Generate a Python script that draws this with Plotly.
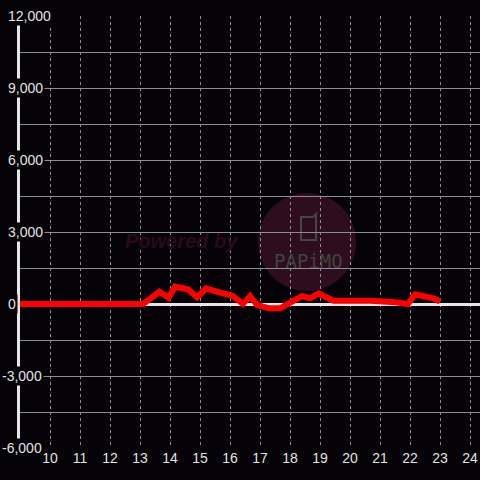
import plotly.graph_objects as go

# ---- data ----
hours = [9, 13.1, 13.65, 13.95, 14.17, 14.6, 14.9, 15.2, 15.67, 16.1, 16.43, 16.67,
         16.9, 17.3, 17.67, 18.1, 18.4, 18.67, 18.95, 19.45, 20.67, 21.5, 21.93,
         22.17, 22.78, 23.0]
values = [0, 0, 510, 260, 720, 610, 280, 650, 470, 330, 0, 330,
          -40, -180, -180, 140, 330, 240, 440, 140, 140, 70, 0,
          400, 240, 100]

x_ticks = list(range(10, 25))
x_tick_labels = [str(h) for h in x_ticks]
y_grid = [-6000 + 1500 * i for i in range(13)]
y_label_vals = [12000, 9000, 6000, 3000, 0, -3000, -6000]
y_label_text = ["12,000", "9,000", "6,000", "3,000", "0", "-3,000", "-6,000"]

BG = "#050307"
GRID = "#8e8e8e"
TXT = "#e2e2e2"
FONT = "Liberation Sans, Arial, sans-serif"

fig = go.Figure()
fig.add_trace(go.Scatter(x=hours, y=values, mode="lines",
                         line=dict(color="#ff0000", width=6),
                         hoverinfo="skip", showlegend=False))

annotations = []
for v, t in zip(y_label_vals, y_label_text):
    annotations.append(dict(
        x=0, xref="paper", y=v, yref="y", text=t, showarrow=False,
        xanchor="left", yanchor="middle",
        xshift=(-20 if t.startswith("-") else -14),
        bgcolor=BG, borderpad=1,
        font=dict(family=FONT, size=14, color=TXT)))


def px(xp):
    return (xp - 20) / 460


def py(yp):
    return (448 - yp) / 432


# watermark
annotations.append(dict(x=px(181), y=py(241), xref="paper", yref="paper",
                        text="<b><i>Powered by</i></b>", showarrow=False,
                        font=dict(family=FONT, size=20, color="#290a1b")))
annotations.append(dict(x=px(308), y=py(261), xref="paper", yref="paper",
                        text="PAPiMO", showarrow=False,
                        font=dict(family="DejaVu Sans Mono", size=19, color="#424242")))

shapes = [
    dict(type="circle", xref="paper", yref="paper", layer="below",
         x0=px(258), x1=px(356), y0=py(291), y1=py(193),
         fillcolor="#2e0d1f", line=dict(width=0)),
    dict(type="path", xref="paper", yref="paper", layer="below",
         path=(f"M {px(301)},{py(217)} L {px(313)},{py(217)} L {px(316)},{py(214)} "
               f"L {px(316)},{py(240)} L {px(301)},{py(240)} Z"),
         line=dict(color="#454545", width=2)),
]

fig.update_layout(
    width=480, height=480,
    margin=dict(l=20, r=0, t=16, b=32),
    paper_bgcolor=BG, plot_bgcolor=BG,
    annotations=annotations, shapes=shapes,
    xaxis=dict(range=[9, 24.333], tickvals=x_ticks, ticktext=x_tick_labels,
               showgrid=True, gridcolor=GRID, griddash="dot", gridwidth=1,
               zeroline=False, showline=False, ticks="", automargin=False,
               tickfont=dict(family=FONT, size=14, color=TXT)),
    yaxis=dict(range=[-6000, 12000], tickvals=y_grid, showticklabels=False,
               showgrid=True, gridcolor=GRID, gridwidth=1, automargin=False,
               zeroline=True, zerolinecolor="#e6e6e6", zerolinewidth=3,
               showline=True, linecolor="#e6e6e6", linewidth=3, ticks=""),
)

fig.write_html(
    "out.html",
    config={"displayModeBar": False},
    post_script="document.body.style.margin='0';document.body.style.background='#050307';",
)
